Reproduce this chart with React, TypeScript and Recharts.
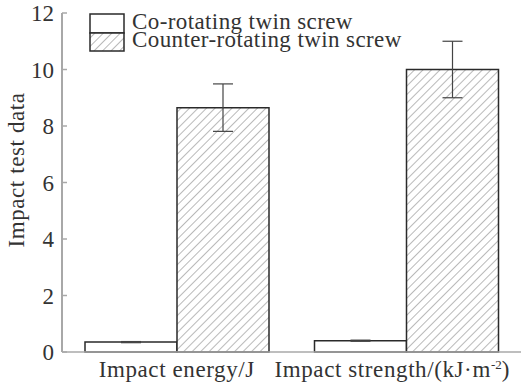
import { BarChart, Bar, XAxis, YAxis, ErrorBar } from "recharts";

const categories = ["Impact energy/J", "Impact strength/(kJ·m⁻²)"];
const seriesNames = ["Co-rotating twin screw", "Counter-rotating twin screw"];
const coValues = [0.35, 0.4];
const coErrors = [0.02, 0.02];
const counterValues = [8.65, 10.0];
const counterErrors = [0.84, 1.0];
const yTicks = [0, 2, 4, 6, 8, 10, 12];

const data = categories.map((name, i) => ({
  name,
  co: coValues[i],
  coErr: coErrors[i],
  counter: counterValues[i],
  counterErr: counterErrors[i],
}));

const FONT = "Liberation Serif";
const TEXT = "#333";
const AXIS = "#a8a8a8";
const EDGE = "#2a2a2a";
const FS = 23;
const textStyle = { fontSize: FS, fontFamily: FONT, letterSpacing: 0.6 };

const YTick = (props: any) => {
  const { x, y, payload } = props;
  return (
    <g>
      <line x1={x + 8} x2={x + 13} y1={y} y2={y} stroke={AXIS} strokeWidth={1.5} />
      <text x={x} y={y} dy="0.35em" textAnchor="end" style={{ fontSize: FS, fontFamily: FONT }} fill={TEXT}>
        {payload.value}
      </text>
    </g>
  );
};

// superscript "⁻²" drawn as a raised small "-2" so the serif font is kept
const XTick = (props: any) => {
  const { x, y, payload, index } = props;
  const label: string = payload.value;
  const sup = label.indexOf("⁻²");
  const shift = index === categories.length - 1 ? -14 : 0;
  if (sup < 0) {
    return (
      <text x={x + shift} y={y} dy="0.75em" textAnchor="middle" style={textStyle} fill={TEXT}>
        {label}
      </text>
    );
  }
  return (
    <text x={x + shift} y={y} dy="0.75em" textAnchor="middle" style={textStyle} fill={TEXT}>
      {label.slice(0, sup)}
      <tspan dy={-8} style={{ fontSize: 13, letterSpacing: 0 }}>-2</tspan>
      <tspan dy={8}>{label.slice(sup + 2)}</tspan>
    </text>
  );
};

const LegendBlock = () => (
  <g style={{ fontSize: FS, fontFamily: FONT, letterSpacing: 0.4 }}>
    <rect x={90} y={14} width={34} height={19} fill="#fff" stroke={EDGE} strokeWidth={1.5} />
    <rect x={90} y={33} width={34} height={18} fill="url(#hatch)" stroke={EDGE} strokeWidth={1.5} />
    <text x={132} y={29} fill={TEXT}>{seriesNames[0]}</text>
    <text x={132} y={47} fill={TEXT}>{seriesNames[1]}</text>
  </g>
);

export default function App() {
  return (
    <div style={{ position: "fixed", left: 0, top: 0, width: 521, height: 387, background: "#fff" }}>
      <BarChart
        width={521}
        height={387}
        data={data}
        margin={{ top: 13, right: 0, bottom: 0, left: 0 }}
        barCategoryGap={23}
        barGap={0}
      >
        <defs>
          <pattern id="hatch" patternUnits="userSpaceOnUse" width={6} height={6} patternTransform="rotate(45)">
            <rect width={6} height={6} fill="#fff" />
            <line x1={0} y1={0} x2={0} y2={6} stroke="#8a8a8a" strokeWidth={1.2} />
          </pattern>
        </defs>
        <XAxis
          dataKey="name"
          axisLine={{ stroke: AXIS, strokeWidth: 1.5 }}
          tickLine={false}
          height={35}
          interval={0}
          tick={<XTick />}
        />
        <YAxis
          domain={[0, 12]}
          ticks={yTicks}
          width={62}
          axisLine={{ stroke: AXIS, strokeWidth: 2 }}
          tickLine={false}
          tickSize={0}
          tickMargin={8}
          tick={<YTick />}
          label={{
            content: () => (
              <text
                x={16}
                y={170}
                transform="rotate(-90 16 170)"
                textAnchor="middle"
                dominantBaseline="central"
                style={textStyle}
                fill={TEXT}
              >
                Impact test data
              </text>
            ),
          }}
        />
        <Bar dataKey="co" name={seriesNames[0]} fill="#fff" stroke={EDGE} strokeWidth={1.5} isAnimationActive={false}>
          <ErrorBar dataKey="coErr" width={10} stroke="#444" strokeWidth={1.2} />
        </Bar>
        <Bar dataKey="counter" name={seriesNames[1]} fill="url(#hatch)" stroke={EDGE} strokeWidth={1.5} isAnimationActive={false}>
          <ErrorBar dataKey="counterErr" width={10} stroke="#444" strokeWidth={1.2} />
        </Bar>
        <LegendBlock />
      </BarChart>
    </div>
  );
}
